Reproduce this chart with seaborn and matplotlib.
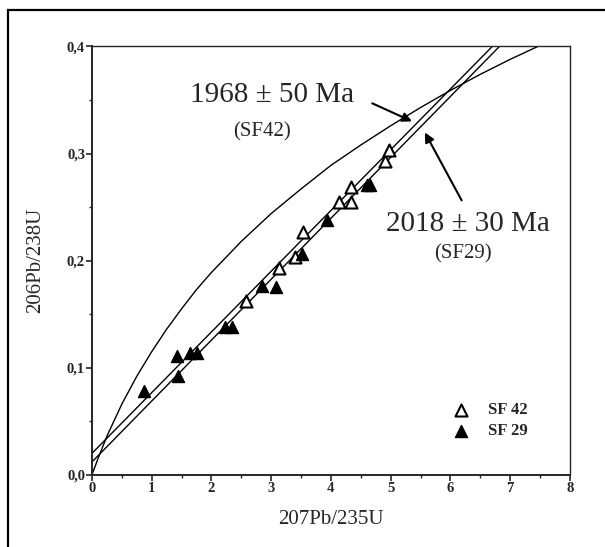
import matplotlib
matplotlib.use('Agg')
import matplotlib.pyplot as plt
from matplotlib.patches import Rectangle
from matplotlib.ticker import MultipleLocator, FuncFormatter
import seaborn as sns

# Concordia curve
conc_x = [0.0, 0.1, 0.25, 0.5, 0.75, 1.0, 1.25, 1.5, 1.75, 2.0, 2.5, 3.0, 3.5, 4.0,
          4.5, 5.0, 5.5, 6.0, 6.5, 7.0, 7.5]
conc_y = [0.0, 0.015, 0.036, 0.066, 0.092, 0.115, 0.136, 0.155, 0.173, 0.189, 0.218,
          0.244, 0.267, 0.289, 0.308, 0.326, 0.343, 0.359, 0.374, 0.388, 0.401]

# Discordia lines (lower end, top end)
disc42_x = [0.0, 6.70]
disc42_y = [0.020, 0.400]
disc29_x = [0.0, 6.82]
disc29_y = [0.012, 0.400]

# Samples
sf42_x = [2.58, 3.13, 3.40, 3.54, 4.13, 4.33, 4.34, 4.90, 4.98]
sf42_y = [0.162, 0.193, 0.203, 0.227, 0.255, 0.255, 0.269, 0.293, 0.303]
sf29_x = [0.87, 1.42, 1.44, 1.64, 1.75, 2.23, 2.34, 2.84, 3.08, 3.52, 3.93, 4.60, 4.65]
sf29_y = [0.078, 0.111, 0.092, 0.114, 0.114, 0.138, 0.138, 0.176, 0.175, 0.206, 0.238, 0.271, 0.271]

sns.set_style('ticks')
plt.rcParams['font.family'] = ['Liberation Serif', 'DejaVu Serif']

fig = plt.figure(figsize=(6.05, 5.47), dpi=100)
ax = fig.add_axes([0.152, 0.132, 0.790, 0.783])

# outer frame of the scanned figure
fig.patches.append(Rectangle((8 / 605, -0.1), 1.2, 1.1 - 9.5 / 547, transform=fig.transFigure,
                             fill=False, edgecolor='black', linewidth=1.6))

sns.lineplot(x=conc_x, y=conc_y, sort=False, estimator=None, color='black', lw=1.0, ax=ax)
sns.lineplot(x=disc42_x, y=disc42_y, sort=False, estimator=None, color='black', lw=1.0, ax=ax)
sns.lineplot(x=disc29_x, y=disc29_y, sort=False, estimator=None, color='black', lw=1.0, ax=ax)

sns.scatterplot(x=sf42_x, y=sf42_y, marker='^', s=75, facecolor='white', edgecolor='black',
                linewidth=1.5, label='SF 42', ax=ax, zorder=3)
sns.scatterplot(x=sf29_x, y=sf29_y, marker='^', s=75, color='black', edgecolor='black',
                linewidth=1.0, label='SF 29', ax=ax, zorder=3)

ax.set_xlim(0, 8)
ax.set_ylim(0, 0.4)
ax.xaxis.set_major_locator(MultipleLocator(1))
ax.xaxis.set_minor_locator(MultipleLocator(0.5))
ax.yaxis.set_major_locator(MultipleLocator(0.1))
ax.yaxis.set_minor_locator(MultipleLocator(0.05))
ax.yaxis.set_major_formatter(FuncFormatter(lambda v, p: f'{v:.1f}'.replace('.', ',')))
ax.tick_params(which='major', direction='out', length=4, width=1.2, labelsize=10.5, pad=1)
ax.tick_params(which='minor', direction='out', length=2.5, width=1.0)
for lab in ax.get_xticklabels() + ax.get_yticklabels():
    lab.set_fontweight('bold')
for sp in ax.spines.values():
    sp.set_visible(True)
    sp.set_linewidth(1.0)
ax.spines['left'].set_linewidth(1.4)
ax.spines['bottom'].set_linewidth(1.4)

ax.set_xlabel('207Pb/235U', fontsize=15, labelpad=11)
ax.set_ylabel('206Pb/238U', fontsize=15, labelpad=16)

ax.text(3.01, 0.355, '1968 ± 50 Ma', fontsize=21, ha='center', va='center')
ax.text(2.84, 0.320, '(SF42)', fontsize=15, ha='center', va='center')
ax.text(6.29, 0.234, '2018 ± 30 Ma', fontsize=21, ha='center', va='center')
ax.text(6.21, 0.206, '(SF29)', fontsize=15, ha='center', va='center')

ax.annotate('', xy=(5.40, 0.329), xytext=(4.65, 0.348),
            arrowprops=dict(arrowstyle='-|>', color='black', lw=1.5, mutation_scale=14))
ax.annotate('', xy=(5.55, 0.322), xytext=(6.21, 0.254),
            arrowprops=dict(arrowstyle='-|>', color='black', lw=1.5, mutation_scale=14))

leg = ax.legend(loc='center left', bbox_to_anchor=(0.72, 0.127), frameon=False, fontsize=12,
                handletextpad=0.6, labelspacing=0.3, borderpad=0)
for t in leg.get_texts():
    t.set_fontweight('bold')

fig.savefig('out.png', dpi=100)
